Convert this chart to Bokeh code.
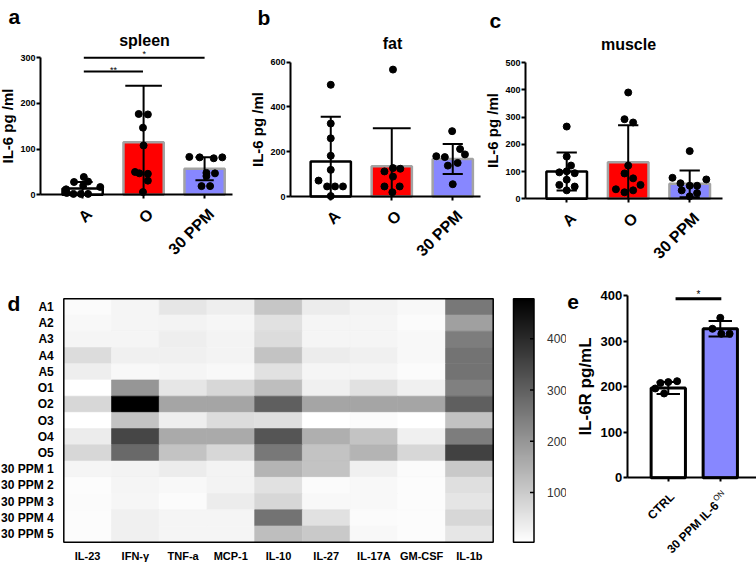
import math
import numpy as np
from bokeh.plotting import figure
from bokeh.layouts import row, column
from bokeh.models import Range1d, FixedTicker, Label, ColumnDataSource, LinearColorMapper
from bokeh.transform import transform
from bokeh.core.properties import value
from bokeh.embed import file_html
from bokeh.resources import INLINE

FONT = "Liberation Sans"

# ---------------- data ----------------
groups = ["A", "O", "30 PPM"]

spleen_mean = [14, 115, 57]
spleen_sd = [14, 124, 25]
spleen_points = [
    [39, 28, 29, 17, 12, 20, 2, 2, 2, 4],
    [177, 176, 147, 108, 50, 47, 46, 31, 6],
    [83, 82, 80, 82, 48, 47, 41, 19, 19],
]
spleen_jitter = [
    [0.02, -0.14, 0.09, 0.29, -0.27, 0.01, -0.15, -0.03, 0.09, -0.26],
    [-0.08, 0.07, -0.01, 0.0, -0.14, -0.07, 0.07, 0.07, -0.01],
    [-0.25, -0.08, 0.15, 0.29, 0.03, 0.17, 0.03, -0.05, 0.09],
]
spleen_sig = [("**", 1.02, 1.99, 270), ("*", 1.02, 3.0, 300)]

fat_mean = [156, 135, 168]
fat_sd = [200, 170, 67]
fat_points = [
    [499, 326, 260, 182, 119, 71, 45, 45, 45, 2],
    [567, 112, 127, 124, 89, 45, 45, 19],
    [292, 212, 188, 180, 176, 150, 138, 55],
]
fat_jitter = [
    [0, 0, 0, 0, 0, -0.2, -0.06, 0.07, 0.2, 0],
    [0.02, -0.12, 0.02, 0.14, 0.02, -0.12, 0.13, 0.01],
    [-0.01, 0.12, 0.2, -0.27, -0.13, 0.08, -0.08, 0.0],
]

muscle_mean = [100, 134, 55]
muscle_sd = [70, 136, 49]
muscle_points = [
    [265, 155, 122, 97, 101, 94, 70, 51, 45, 31],
    [390, 292, 280, 122, 93, 75, 35, 51, 24, 31],
    [175, 77, 71, 57, 48, 48, 31, 21, 9],
]
muscle_jitter = [
    [0, 0, 0.07, -0.12, 0, 0.13, 0, -0.12, 0.13, 0],
    [0, -0.06, 0.08, 0, -0.06, 0.08, -0.2, 0.2, -0.06, 0.08],
    [0, -0.28, 0.27, -0.15, 0, 0.12, -0.13, 0.12, 0],
]

e_groups = ["CTRL", "30 PPM IL-6"]
e_superscript = "ON"
e_mean = [197, 327]
e_sd = [13, 17]
e_points = [[208, 210, 212, 196, 185], [351, 327, 316, 316]]
e_jitter = [[-0.15, 0.0, 0.17, -0.25, -0.08], [0.0, -0.15, 0.02, 0.18]]
e_sig = [("*", 1.14, 2.02, 393)]

cytokines = ["IL-23", "IFN-\u03b3", "TNF-a", "MCP-1", "IL-10", "IL-27", "IL-17A", "GM-CSF", "IL-1b"]
samples = ["A1", "A2", "A3", "A4", "A5", "O1", "O2", "O3", "O4", "O5",
           "30 PPM 1", "30 PPM 2", "30 PPM 3", "30 PPM 4", "30 PPM 5"]
heat = [
    [12, 22, 50, 35, 110, 40, 27, 16, 255],
    [16, 22, 27, 20, 59, 22, 22, 12, 180],
    [22, 22, 35, 27, 68, 22, 22, 16, 245],
    [68, 31, 31, 27, 115, 40, 31, 16, 264],
    [35, 16, 22, 16, 59, 22, 22, 12, 264],
    [3, 199, 50, 78, 124, 31, 59, 31, 240],
    [78, 478, 171, 171, 301, 171, 171, 171, 301],
    [3, 115, 35, 68, 64, 3, 12, 3, 118],
    [40, 348, 161, 161, 320, 152, 115, 31, 245],
    [78, 282, 115, 78, 255, 115, 143, 78, 357],
    [22, 27, 40, 27, 143, 115, 31, 12, 105],
    [9, 22, 16, 27, 59, 12, 16, 9, 64],
    [12, 20, 12, 40, 78, 16, 16, 9, 53],
    [9, 31, 22, 22, 264, 59, 12, 9, 78],
    [9, 31, 22, 22, 124, 105, 16, 9, 50],
]
heat_low, heat_high = 3, 478
heat_ticks = [100, 200, 300, 400]

# ---------------- styles ----------------
BLUE = "#8787ff"
FILLS = ["white", "#ff0000", BLUE]
OUTLINES = ["black", "#a3a3a3", "#a3a3a3"]
LETTER = "21px"


def add_text(p, text, fx, fy, size, height, align="left", style="bold", color="black"):
    # frame fills the whole canvas: screen units measured from its bottom-left
    p.add_layout(Label(x=fx, y=height - fy, x_units="screen", y_units="screen",
                       text=text, text_font=FONT, text_font_size=size, text_font_style=style,
                       text_align=align, text_baseline="alphabetic", text_color=color))


def new_fig(width, height, xr, yr):
    p = figure(width=width, height=height, x_range=Range1d(*xr), y_range=Range1d(*yr),
               output_backend="svg", toolbar_location=None, title=None,
               min_border=0, min_border_left=0, min_border_right=0,
               min_border_top=0, min_border_bottom=0)
    p.outline_line_color = None
    p.grid.visible = False
    return p


def bar_panel(width, height, ax_px, ax_py, ppx, ppy, xa, xb, ymax, yticks,
              means, sds, points, jitters, fills, outlines, bar_lw, caps,
              xlabels, xlabel_size, lab_off, ylabel, ylabel_size, tick_size,
              ylab_standoff=1, ytick_standoff=1):
    x0 = xa - ax_px / ppx
    y0 = -(height - ax_py) / ppy
    p = new_fig(width, height, (x0, x0 + width / ppx), (y0, y0 + height / ppy))
    xs = list(range(1, len(means) + 1))
    p.vbar(x=xs, top=means, bottom=0, width=0.66, fill_color=fills, line_color=outlines, line_width=bar_lw)
    lo = [max(m - s, 0) for m, s in zip(means, sds)]
    hi = [m + s for m, s in zip(means, sds)]
    p.segment(x0=xs, y0=lo, x1=xs, y1=hi, line_color="black", line_width=2)
    cx0 = [x - c / 2 for x, c in zip(xs, caps)]
    cx1 = [x + c / 2 for x, c in zip(xs, caps)]
    p.segment(x0=cx0, y0=hi, x1=cx1, y1=hi, line_color="black", line_width=2)
    keep = [i for i, (m, s) in enumerate(zip(means, sds)) if m - s > 0]
    if keep:
        p.segment(x0=[cx0[i] for i in keep], y0=[lo[i] for i in keep],
                  x1=[cx1[i] for i in keep], y1=[lo[i] for i in keep], line_color="black", line_width=2)
    px, py = [], []
    for x, pts, jit in zip(xs, points, jitters):
        for v, j in zip(pts, jit):
            px.append(x + j)
            py.append(v)
    p.scatter(x=px, y=py, size=7, color="black")

    y = p.yaxis[0]
    y.fixed_location = xa
    y.bounds = (0, ymax)
    y.ticker = FixedTicker(ticks=yticks)
    y.axis_line_width = 2
    y.major_tick_line_width = 2
    y.major_tick_out = 4
    y.major_tick_in = 0
    y.minor_tick_line_color = None
    y.major_label_standoff = ytick_standoff
    y.major_label_text_font = FONT
    y.major_label_text_font_size = tick_size
    y.major_label_text_font_style = "bold"
    y.major_label_text_color = "black"
    y.axis_label = ylabel
    y.axis_label_text_font = FONT
    y.axis_label_text_font_size = ylabel_size
    y.axis_label_text_font_style = "bold"
    y.axis_label_text_color = "black"
    y.axis_label_standoff = ylab_standoff

    x = p.xaxis[0]
    x.fixed_location = 0
    x.bounds = (xa, xb)
    x.ticker = FixedTicker(ticks=xs)
    x.axis_line_width = 2
    x.major_tick_line_width = 2
    x.major_tick_out = 4
    x.major_tick_in = 0
    x.minor_tick_line_color = None
    x.major_label_text_color = None

    p.text(x=xs, y=[0] * len(xs), text=xlabels, angle=math.pi / 4,
           x_offset=lab_off[0], y_offset=lab_off[1],
           text_align="right", text_baseline="middle",
           text_font=value(FONT), text_font_size=value(xlabel_size),
           text_font_style=value("bold"), text_color="black")
    return p


def add_sig(p, sigs, size, lifts, lw=2):
    for (txt, a, b, yv), lift in zip(sigs, lifts):
        p.segment(x0=[a], y0=[yv], x1=[b], y1=[yv], line_color="black", line_width=lw)
        p.add_layout(Label(x=(a + b) / 2, y=yv, text=txt, text_font=FONT, text_font_size=size,
                           text_align="center", text_baseline="middle", y_offset=lift,
                           text_color="black"))


H1 = 262
H2 = 300
TOP_OFF = (6.7, 16.7)

# ---- panel a ----
pa = bar_panel(250, H1, 40, 194.3, 61, 137 / 300, 0.31, 3.46, 300, [0, 100, 200, 300],
               spleen_mean, spleen_sd, spleen_points, spleen_jitter, FILLS, OUTLINES, 2.5,
               [0.33, 0.6, 0.3], groups, "16px", TOP_OFF, "IL-6 pg /ml", "15px", "9px")
add_sig(pa, spleen_sig, "9px", [2, 4])
add_text(pa, "a", 8, 16, LETTER, H1)
add_text(pa, "spleen", 144, 39.5, "16px", H1, align="center")

# ---- panel b ----
pb = bar_panel(233, H1, 40, 196, 61, 134.3 / 600, 0.34, 3.455, 600, [0, 200, 400, 600],
               fat_mean, fat_sd, fat_points, fat_jitter, FILLS, OUTLINES, 2.5,
               [0.33, 0.62, 0.33], groups, "16px", TOP_OFF, "IL-6 pg /ml", "15px", "9px")
add_text(pb, "b", 7, 17, LETTER, H1)
add_text(pb, "fat", 142, 43, "16px", H1, align="center")

# ---- panel c ----
pc = bar_panel(273, H1, 42, 198.3, 61.5, 136.3 / 500, 0.33, 3.54, 500, [0, 100, 200, 300, 400, 500],
               muscle_mean, muscle_sd, muscle_points, muscle_jitter, FILLS, OUTLINES, 2.5,
               [0.33, 0.33, 0.33], groups, "16px", TOP_OFF, "IL-6 pg /ml", "15px", "9px")
add_text(pc, "c", 6, 20, LETTER, H1)
add_text(pc, "muscle", 145, 44, "16px", H1, align="center")

# ---- panel d (heatmap) ----
grays = ["#%02x%02x%02x" % (g, g, g) for g in np.linspace(255, 0, 256).astype(int)]
mapper = LinearColorMapper(palette=grays, low=heat_low, high=heat_high)

ncol, nrow = len(cytokines), len(samples)
hx, hy, hv = [], [], []
for j, vals in enumerate(heat):
    for i, v in enumerate(vals):
        hx.append(i + 0.5)
        hy.append(nrow - j - 0.5)
        hv.append(v)
hsrc = ColumnDataSource(dict(x=hx, y=hy, val=hv))

D_W = 500
D_L, D_R, D_T, D_B = 63.3, 492.7, 298.3 - H1, 541.7 - H1
hppx = (D_R - D_L) / ncol
hppy = (D_B - D_T) / nrow
hx0 = -D_L / hppx
hy0 = -(H2 - D_B) / hppy
pdm = new_fig(D_W, H2, (hx0, hx0 + D_W / hppx), (hy0, hy0 + H2 / hppy))
pdm.rect(x="x", y="y", width=1, height=1, source=hsrc,
         fill_color=transform("val", mapper), line_color=transform("val", mapper), line_width=0.6)
pdm.rect(x=[ncol / 2], y=[nrow / 2], width=[ncol], height=[nrow],
         fill_color=None, line_color="black", line_width=1.5)
pdm.xaxis.visible = False
ya_ = pdm.yaxis[0]
ya_.fixed_location = 0
ya_.ticker = FixedTicker(ticks=[nrow - j - 0.5 for j in range(nrow)])
ya_.major_label_overrides = {nrow - j - 0.5: s for j, s in enumerate(samples)}
ya_.axis_line_color = None
ya_.major_tick_line_color = None
ya_.minor_tick_line_color = None
ya_.major_label_standoff = 4
ya_.major_label_text_font = FONT
ya_.major_label_text_font_size = "12px"
ya_.major_label_text_font_style = "bold"
ya_.major_label_text_color = "black"
pdm.text(x=[i + 0.5 for i in range(ncol)], y=[0] * ncol, text=cytokines, y_offset=8,
         text_align="center", text_baseline="top", text_font=value(FONT),
         text_font_size=value("11px"), text_font_style=value("bold"), text_color="black")
add_text(pdm, "d", 7, 303 - H1, LETTER, H2)

# ---- colour bar ----
CB_W = 66
CB_L, CB_R = 13, 33.5
cppx = CB_R - CB_L
cppy = (D_B - D_T) / (heat_high - heat_low)
cx0 = -CB_L / cppx
cy0 = heat_low - (H2 - D_B) / cppy
pcb = new_fig(CB_W, H2, (cx0, cx0 + CB_W / cppx), (cy0, cy0 + H2 / cppy))
grad = np.linspace(heat_low, heat_high, 256).reshape(256, 1)
pcb.image(image=[grad], x=0, y=heat_low, dw=1, dh=heat_high - heat_low, color_mapper=mapper)
pcb.rect(x=[0.5], y=[(heat_low + heat_high) / 2], width=[1], height=[heat_high - heat_low],
         fill_color=None, line_color="black", line_width=1.5)
pcb.xaxis.visible = False
pcb.yaxis.visible = False
pcb.segment(x0=[1 - 4 / cppx] * len(heat_ticks), y0=heat_ticks, x1=[1] * len(heat_ticks), y1=heat_ticks,
            line_color="black", line_width=1.5)
pcb.text(x=[1] * len(heat_ticks), y=heat_ticks, text=[str(t) for t in heat_ticks], x_offset=13,
         text_align="left", text_baseline="middle", text_font=value(FONT),
         text_font_size=value("12px"), text_color="#333333")

# ---- panel e ----
E_W = 190
E_AX = 60.7
pe = bar_panel(E_W, H2, E_AX, 477.3 - H1, 52, 182.3 / 400, 0.21, 0.21 + (E_W - E_AX) / 52, 400,
               [0, 100, 200, 300, 400],
               e_mean, e_sd, e_points, e_jitter, ["white", BLUE], ["black", "black"], 3,
               [0.45, 0.45], e_groups, "12px", ([4, -3.6], [17, 25.8]), "IL-6R pg/mL", "17px", "13px",
               ylab_standoff=3, ytick_standoff=1)
pe.text(x=[len(e_groups)], y=[0], text=[e_superscript], angle=math.pi / 4,
        x_offset=-5.7, y_offset=22.3, text_align="left", text_baseline="middle",
        text_font=value(FONT), text_font_size=value("8px"), text_color="black")
add_sig(pe, e_sig, "10px", [4], lw=3)
add_text(pe, "e", 0.7, 301 - H1, LETTER, H2)

layout = column(row(pa, pb, pc, spacing=0), row(pdm, pcb, pe, spacing=0), spacing=0)

with open("out.html", "w") as f:
    f.write(file_html(layout, INLINE))
